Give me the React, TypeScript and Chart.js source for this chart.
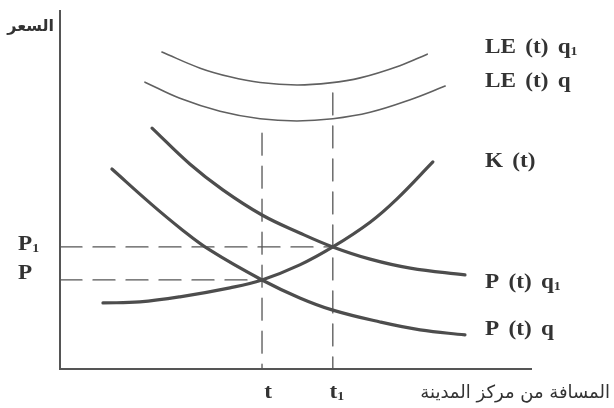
import React, { useEffect, useRef } from "react";
import { Chart, registerables } from "chart.js";

Chart.register(...registerables);

// Conceptual diagram: arbitrary units on 0..100 scales
const leQ1X = [21.6, 29.7, 36.0, 42.4, 50.2, 57.2, 63.6, 72.0, 77.8];
const leQ1Y = [88.3, 83.8, 81.4, 79.8, 79.1, 79.7, 81.1, 84.5, 87.7];
const leQX = [18.0, 25.4, 33.9, 42.4, 50.2, 57.8, 65.7, 74.2, 81.6];
const leQY = [79.9, 75.4, 71.8, 69.7, 69.1, 69.7, 71.5, 75.0, 78.8];
const kX = [9.1, 16.9, 25.4, 36.0, 42.8, 50.8, 57.8, 65.7, 71.4, 79.0];
const kY = [18.4, 18.7, 20.1, 22.6, 24.8, 29.0, 34.0, 40.9, 47.4, 57.7];
const pq1X = [19.5, 27.5, 34.5, 42.8, 50.8, 57.8, 65.7, 74.2, 85.8];
const pq1Y = [67.1, 57.1, 49.9, 42.9, 37.9, 34.0, 30.6, 28.1, 26.2];
const pqX = [11.0, 19.1, 25.4, 31.8, 42.8, 50.8, 57.8, 67.8, 76.3, 85.8];
const pqY = [55.7, 46.2, 39.3, 33.1, 24.8, 19.8, 16.4, 13.1, 10.9, 9.5];

// equilibrium values
const tVal = 42.8;
const t1Val = 57.8;
const pVal = 24.8;
const p1Val = 34.0;
const tTop = 65.7;
const t1Top = 76.9;

const yAxisTitle = "السعر";
const xAxisTitle = "المسافة من مركز المدينة";
const curveLabels = ["LE (t) q", "LE (t) q", "K (t)", "P (t) q", "P (t) q"];
const curveSubs = ["1", "", "", "1", ""];

const zip = (xs: number[], ys: number[]) => xs.map((x, i) => ({ x, y: ys[i] }));

const GRAY = "#4d4d4d";
const TEXT = "#333";

export default function App() {
  const ref = useRef<HTMLCanvasElement>(null);
  useEffect(() => {
    if (!ref.current) return;
    const MAIN = 'bold 20px "Liberation Serif"';
    const SUB = 'bold 12px "Liberation Serif"';
    const SX = 1.16;
    const drawSub = (ctx: CanvasRenderingContext2D, text: string, sub: string, x: number, y: number, align: "left" | "center") => {
      ctx.font = MAIN;
      (ctx as any).wordSpacing = "3px";
      const w = ctx.measureText(text).width * SX;
      ctx.font = SUB;
      const ws = sub ? ctx.measureText(sub).width * SX : 0;
      let x0 = x;
      if (align === "center") x0 = x - (w + ws) / 2;
      ctx.textAlign = "left";
      ctx.textBaseline = "middle";
      ctx.save();
      ctx.translate(x0, y);
      ctx.scale(SX, 1);
      ctx.font = MAIN;
      ctx.fillText(text, 0, 0);
      ctx.restore();
      if (sub) {
        ctx.save();
        ctx.translate(x0 + w, y + 4);
        ctx.scale(SX, 1);
        ctx.font = SUB;
        ctx.fillText(sub, 0, 0);
        ctx.restore();
      }
      (ctx as any).wordSpacing = "0px";
    };
    const deco = {
      id: "deco",
      beforeDatasetsDraw(chart: any) {
        const { ctx, chartArea: a } = chart;
        ctx.save();
        ctx.strokeStyle = "#555";
        ctx.lineWidth = 2;
        ctx.beginPath();
        ctx.moveTo(a.left, a.top);
        ctx.lineTo(a.left, a.bottom);
        ctx.lineTo(a.right, a.bottom);
        ctx.stroke();
        ctx.restore();
      },
      afterDraw(chart: any) {
        const { ctx } = chart;
        const xs = chart.scales.x;
        const ys = chart.scales.y;
        ctx.save();
        ctx.fillStyle = TEXT;
        const ly = [48, 82, 162, 283, 330];
        curveLabels.forEach((t, i) => drawSub(ctx, t, curveSubs[i], 485, ly[i], "left"));
        drawSub(ctx, "P", "1", 18, ys.getPixelForValue(p1Val) - 2, "left");
        drawSub(ctx, "P", "", 18, ys.getPixelForValue(pVal) - 6, "left");
        drawSub(ctx, "t", "", xs.getPixelForValue(tVal) + 6, 393, "center");
        drawSub(ctx, "t", "1", xs.getPixelForValue(t1Val) + 4, 393, "center");
        ctx.font = '18px "DejaVu Sans", sans-serif';
        ctx.direction = "rtl";
        ctx.textAlign = "right";
        ctx.textBaseline = "middle";
        ctx.fillText(xAxisTitle, 610, 393);
        ctx.font = 'bold 16px "DejaVu Sans", sans-serif';
        ctx.fillText(yAxisTitle, 54, 27);
        ctx.restore();
      },
    };
    const dash = [22, 11];
    const dashed = { borderColor: "#555", borderWidth: 1.3, borderDash: dash, tension: 0 };
    const chart = new Chart(ref.current, {
      type: "line",
      data: {
        datasets: [
          { data: zip(leQ1X, leQ1Y), borderColor: "#606060", borderWidth: 1.6 },
          { data: zip(leQX, leQY), borderColor: "#606060", borderWidth: 1.6 },
          { data: zip(kX, kY), borderColor: GRAY, borderWidth: 3.2 },
          { data: zip(pq1X, pq1Y), borderColor: GRAY, borderWidth: 3.2 },
          { data: zip(pqX, pqY), borderColor: GRAY, borderWidth: 3.2 },
          { data: [{ x: tVal, y: tTop }, { x: tVal, y: 0 }], ...dashed },
          { data: [{ x: t1Val, y: t1Top }, { x: t1Val, y: 0 }], ...dashed },
          { data: [{ x: 0, y: p1Val }, { x: t1Val, y: p1Val }], ...dashed },
          { data: [{ x: 0, y: pVal }, { x: tVal, y: pVal }], ...dashed },
        ] as any,
      },
      options: {
        animation: false,
        responsive: false,
        maintainAspectRatio: false,
        parsing: false as any,
        layout: { padding: { left: 60, right: 82, top: 10, bottom: 39 } },
        elements: {
          point: { radius: 0 },
          line: { tension: 0.4, fill: false, borderCapStyle: "round" },
        },
        plugins: { legend: { display: false }, tooltip: { enabled: false } },
        scales: {
          x: { type: "linear", min: 0, max: 100, display: false },
          y: { type: "linear", min: 0, max: 100, display: false },
        },
      },
      plugins: [deco],
    });
    return () => chart.destroy();
  }, []);
  return (
    <div style={{ position: "fixed", left: 0, top: 0, width: 614, height: 408, background: "#fff" }}>
      <canvas ref={ref} width={614} height={408} style={{ width: 614, height: 408 }} />
    </div>
  );
}
